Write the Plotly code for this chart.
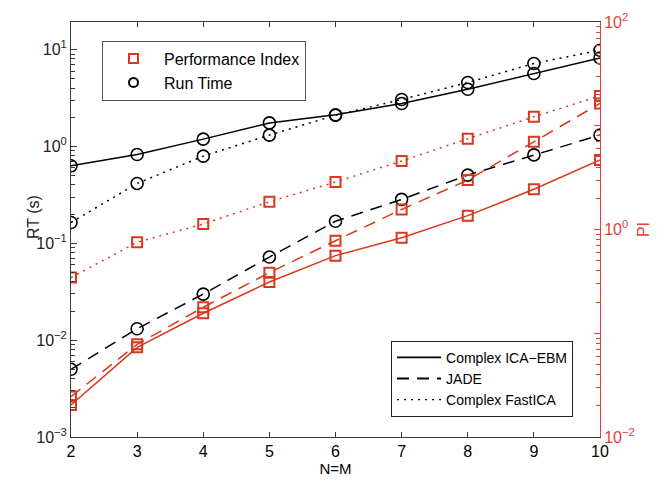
import plotly.graph_objects as go

# ---- data ----
n_values = [2, 3, 4, 5, 6, 7, 8, 9, 10]

rt_ebm = [0.631, 0.826, 1.19, 1.75, 2.12, 2.78, 3.90, 5.66, 8.20]
rt_jade = [0.0050, 0.0131, 0.0299, 0.0721, 0.169, 0.284, 0.506, 0.818, 1.31]
rt_fastica = [0.164, 0.415, 0.794, 1.31, 2.10, 3.05, 4.57, 7.19, 9.86]

pi_ebm = [0.0204, 0.0731, 0.156, 0.312, 0.560, 0.834, 1.36, 2.44, 4.68]
pi_jade = [0.0245, 0.0782, 0.178, 0.384, 0.780, 1.56, 3.00, 7.01, 16.4]
pi_fastica = [0.344, 0.753, 1.13, 1.85, 2.87, 4.57, 7.50, 12.2, 19.4]

x_ticks = [2, 3, 4, 5, 6, 7, 8, 9, 10]
rt_tickvals = [1e-3, 1e-2, 1e-1, 1e0, 1e1]
rt_ticktext = ["10<sup>−3</sup>", "10<sup>−2</sup>", "10<sup>−1</sup>", "10<sup>0</sup>", "10<sup>1</sup>"]
pi_tickvals = [1e-2, 1e-1, 1e0, 1e1, 1e2]
pi_ticktext = ["10<sup>−2</sup>", "", "10<sup>0</sup>", "", "10<sup>2</sup>"]

method_names = ["Complex ICA−EBM", "JADE", "Complex FastICA"]
measure_names = ["Performance Index", "Run Time"]
rt_label = "RT (s)"
pi_label = "PI"
x_label = "N=M"

# ---- styles ----
RED = "#d9381e"
RED_AX = "#e0403a"
AX = "#3a3a3a"
FONT = "Liberation Sans, Arial, sans-serif"
dash_styles = ["solid", "12px,8px", "2px,5px"]

fig = go.Figure()

rt_series = [rt_ebm, rt_jade, rt_fastica]
pi_series = [pi_ebm, pi_jade, pi_fastica]

for vals, dsh in zip(rt_series, dash_styles):
    fig.add_trace(go.Scatter(
        x=n_values, y=vals, mode="lines+markers", yaxis="y",
        line=dict(color="black", width=1.5, dash=dsh),
        marker=dict(symbol="circle-open", size=12, color="black", line=dict(width=1.6)),
        showlegend=False, hoverinfo="skip"))

for vals, dsh in zip(pi_series, dash_styles):
    fig.add_trace(go.Scatter(
        x=n_values, y=vals, mode="lines+markers", yaxis="y2",
        line=dict(color=RED, width=1.5, dash=dsh),
        marker=dict(symbol="square-open", size=10, color=RED, line=dict(width=2)),
        showlegend=False, hoverinfo="skip"))

# empty traces registering the minor-tick overlay axes
fig.add_trace(go.Scatter(x=[None], y=[None], yaxis="y3", showlegend=False, hoverinfo="skip"))
fig.add_trace(go.Scatter(x=[None], y=[None], yaxis="y4", showlegend=False, hoverinfo="skip"))

# legend 1: markers
fig.add_trace(go.Scatter(x=[None], y=[None], mode="markers", name=measure_names[0],
                         marker=dict(symbol="square-open", size=9, color=RED, line=dict(width=2)),
                         legend="legend"))
fig.add_trace(go.Scatter(x=[None], y=[None], mode="markers", name=measure_names[1],
                         marker=dict(symbol="circle-open", size=9, color="black", line=dict(width=2)),
                         legend="legend"))
# legend 2: line styles
for nm, dsh in zip(method_names, dash_styles):
    fig.add_trace(go.Scatter(x=[None], y=[None], mode="lines", name=nm,
                             line=dict(color="black", width=1.8 if dsh != "2px,5px" else 1.2, dash=dsh),
                             legend="legend2"))

minor_rt = [m * 10 ** e for e in range(-3, 2) for m in range(2, 10) if m * 10 ** e < 19]
minor_pi = [m * 10 ** e for e in range(-2, 2) for m in range(2, 10)]

fig.update_layout(
    width=663, height=481,
    margin=dict(l=71, r=63, t=22, b=44),
    paper_bgcolor="white", plot_bgcolor="white",
    font=dict(family=FONT, size=16, color="black"),
    xaxis=dict(
        range=[2, 10], tickvals=x_ticks, ticks="inside", ticklen=5, tickcolor=AX,
        showline=True, linecolor=AX, linewidth=1, mirror="ticks", showgrid=False, zeroline=False,
        automargin=False,
        title=dict(text=x_label, font=dict(size=15), standoff=2),
        tickfont=dict(size=16, color="black")),
    yaxis=dict(
        type="log", range=[-3, 1.285], tickvals=rt_tickvals, ticktext=rt_ticktext,
        ticks="inside", ticklen=6, tickcolor=AX, showline=True, linecolor=AX, linewidth=1,
        showgrid=False, zeroline=False, automargin=False,
        tickfont=dict(size=16, color="#222")),
    yaxis2=dict(
        type="log", range=[-2, 2], overlaying="y", side="right",
        tickvals=pi_tickvals, ticktext=pi_ticktext,
        ticks="inside", ticklen=6, tickcolor=RED_AX, showline=True, linecolor=RED_AX, linewidth=1,
        showgrid=False, zeroline=False, automargin=False,
        title=dict(text=pi_label, font=dict(size=16, color=RED_AX), standoff=4),
        tickfont=dict(size=16, color=RED_AX)),
    yaxis3=dict(
        type="log", range=[-3, 1.285], overlaying="y", side="left", anchor="x",
        tickvals=minor_rt, showticklabels=False,
        ticks="inside", ticklen=4, tickwidth=1, tickcolor=AX, showline=False, showgrid=False,
        zeroline=False, automargin=False),
    yaxis4=dict(
        type="log", range=[-2, 2], overlaying="y", side="right", anchor="x",
        tickvals=minor_pi, showticklabels=False,
        ticks="inside", ticklen=4, tickwidth=1, tickcolor=RED_AX, showline=False, showgrid=False,
        zeroline=False, automargin=False),
    legend=dict(x=0.0586, y=0.955, xanchor="left", yanchor="top",
                bordercolor="#555", borderwidth=1, bgcolor="white",
                font=dict(size=16, family=FONT), itemwidth=51, tracegroupgap=0),
    legend2=dict(x=0.605, y=0.232, xanchor="left", yanchor="top",
                 bordercolor="#222", borderwidth=1, bgcolor="white",
                 font=dict(size=14, family=FONT), itemwidth=44, tracegroupgap=0),
    annotations=[dict(text=rt_label, xref="paper", yref="paper", x=-0.072, y=0.53,
                      xanchor="center", yanchor="middle", textangle=-90, showarrow=False,
                      font=dict(size=16, color="#222"))],
)

fig.write_html("out.html", config={"displayModeBar": False},
               post_script="document.body.style.margin='0';document.body.style.padding='0';")
